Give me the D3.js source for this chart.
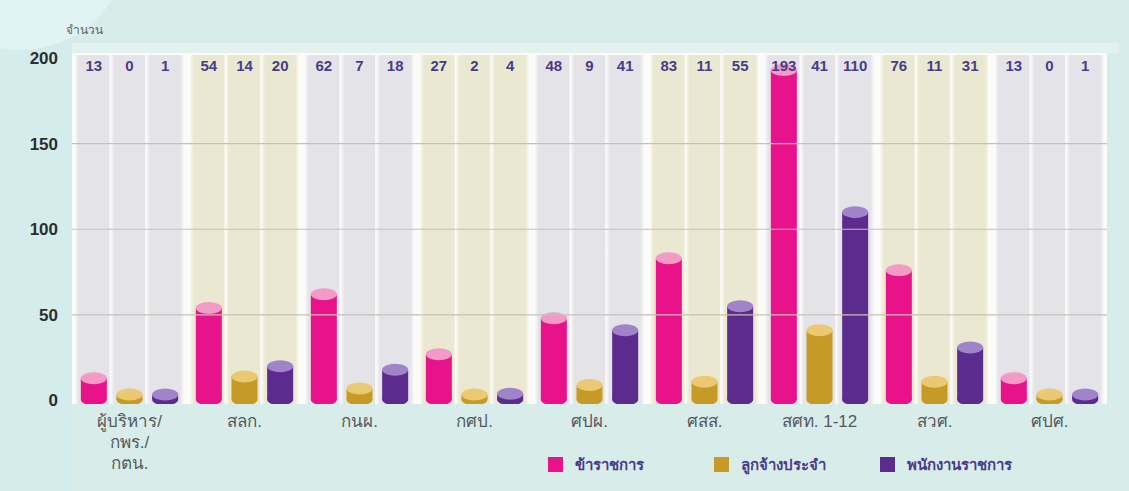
<!DOCTYPE html>
<html>
<head>
<meta charset="utf-8">
<script src="https://cdn.jsdelivr.net/npm/d3@7"></script>
<style>
  body { margin: 0; background: #d8ecea; }
  svg { display: block; }
</style>
</head>
<body>
<div id="chart"></div>
<script>
"use strict";

// data
const categories = ["ผู้บริหาร/|กพร./|กตน.", "สลก.", "กนผ.", "กศป.", "ศปผ.", "ศสส.", "สศท. 1-12", "สวศ.", "ศปศ."];
const seriesNames = ["ข้าราชการ", "ลูกจ้างประจำ", "พนักงานราชการ"];
const civilServants = [13, 54, 62, 27, 48, 83, 193, 76, 13];
const permanentStaff = [0, 14, 7, 2, 9, 11, 41, 11, 0];
const govEmployees = [1, 20, 18, 4, 41, 55, 110, 31, 1];
const yTicks = [0, 50, 100, 150, 200];

const seriesValues = [civilServants, permanentStaff, govEmployees];
const sideColors = ["#e8128a", "#c59a26", "#5b2b8e"];
const topColors = ["#f39ac6", "#ebc872", "#a083c9"];

const W = 1129, H = 491;
const plotL = 72, plotR = 1107, plotT = 53, plotB = 404;

const svg = d3.select("#chart").append("svg")
    .attr("width", W).attr("height", H)
    .style("font-family", "'Liberation Sans', Arial, sans-serif");

const defs = svg.append("defs");
function colGrad(id, c) {
    const g = defs.append("linearGradient").attr("id", id).attr("x1", 0).attr("x2", 1);
    g.append("stop").attr("offset", 0).attr("stop-color", "#ffffff");
    g.append("stop").attr("offset", 0.12).attr("stop-color", c);
    g.append("stop").attr("offset", 0.88).attr("stop-color", c);
    g.append("stop").attr("offset", 1).attr("stop-color", "#ffffff");
}
colGrad("gGray", "#e4e4e8");
colGrad("gBeige", "#ebe8d2");

// background decorations
svg.append("rect").attr("x", 0).attr("y", 0).attr("width", plotL).attr("height", H).attr("fill", "#d4ecec");
svg.append("circle").attr("cx", 20).attr("cy", -60).attr("r", 110).attr("fill", "#e2f3f3");
svg.append("rect").attr("x", plotL).attr("y", plotT - 10).attr("width", plotR - plotL + 12).attr("height", 10)
    .attr("fill", "#e3f2ee");

const x0 = d3.scaleBand().domain(categories).range([plotL, plotR]);
const x1 = d3.scaleBand().domain(seriesNames).range([4, x0.bandwidth() - 4]);
const y = d3.scaleLinear().domain([0, 200]).range([400.5, 58]);

// plot panel
svg.append("rect").attr("x", plotL).attr("y", plotT).attr("width", plotR - plotL).attr("height", plotB - plotT)
    .attr("fill", "#fbfbf8");

const groups = svg.append("g").selectAll("g").data(categories).join("g")
    .attr("transform", d => `translate(${x0(d)},0)`);

groups.selectAll("rect.col").data((d, i) => seriesNames.map(s => ({ s, i }))).join("rect")
    .attr("class", "col")
    .attr("x", d => x1(d.s) - 2)
    .attr("y", plotT + 2)
    .attr("width", x1.bandwidth() + 4)
    .attr("height", plotB - plotT - 2)
    .attr("fill", d => d.i % 2 === 0 ? "url(#gGray)" : "url(#gBeige)");

// gridlines
svg.append("g").selectAll("line").data(yTicks.filter(t => t > 0 && t < 200)).join("line")
    .attr("x1", plotL).attr("x2", plotR)
    .attr("y1", d => y(d)).attr("y2", d => y(d))
    .attr("stroke", "#cbbfb5").attr("stroke-width", 1.2);

// bottom teal strip under baseline
svg.append("rect").attr("x", plotL).attr("y", plotB).attr("width", plotR - plotL).attr("height", 4).attr("fill", "#d8ecea");

// y axis labels
const yAxis = d3.axisLeft(y).tickValues(yTicks).tickSize(0).tickPadding(0);
svg.append("g").attr("transform", "translate(58,0)").call(yAxis)
    .call(g => g.select(".domain").remove())
    .selectAll("text")
    .attr("fill", "#2e2e2e").style("font-size", "17px").style("font-weight", "bold");

svg.append("text").attr("x", 66).attr("y", 34).text("จำนวน")
    .attr("fill", "#5f6468").style("font-size", "12px");

// cylinders
const barW = 26, ry = 6, minH = 5;
const bars = groups.selectAll("g.bar").data((d, i) => seriesValues.map((vals, k) => ({ k, v: vals[i] }))).join("g")
    .attr("class", "bar")
    .attr("transform", d => `translate(${x1(seriesNames[d.k]) + x1.bandwidth() / 2},0)`);

bars.each(function (d) {
    const g = d3.select(this);
    const yb = y(0) - 1;
    const yt = Math.min(y(d.v), yb - minH);
    g.append("ellipse").attr("cx", 0).attr("cy", yb).attr("rx", barW / 2).attr("ry", ry).attr("fill", sideColors[d.k]);
    g.append("rect").attr("x", -barW / 2).attr("y", yt).attr("width", barW).attr("height", yb - yt).attr("fill", sideColors[d.k]);
    g.append("ellipse").attr("cx", 0).attr("cy", yt).attr("rx", barW / 2).attr("ry", ry).attr("fill", topColors[d.k]);
});

// value labels
bars.append("text")
    .attr("x", 0).attr("y", 71)
    .attr("text-anchor", "middle")
    .attr("fill", "#4a3b8a")
    .style("font-size", "15px").style("font-weight", "bold")
    .text(d => d.v);

// category labels
groups.append("text")
    .attr("x", x0.bandwidth() / 2)
    .attr("y", 427)
    .attr("text-anchor", "middle")
    .attr("fill", "#555a5e")
    .style("font-size", "17px")
    .selectAll("tspan").data(d => d.split("|")).join("tspan")
    .attr("x", x0.bandwidth() / 2)
    .attr("dy", (d, i) => i === 0 ? 0 : 21)
    .text(d => d);

// legend
const legendX = [548, 714, 880];
const legend = svg.append("g").selectAll("g").data(seriesNames).join("g")
    .attr("transform", (d, i) => `translate(${legendX[i]},457)`);
legend.append("rect").attr("width", 15).attr("height", 15).attr("fill", (d, i) => sideColors[i]);
legend.append("text").attr("x", 27).attr("y", 13).text(d => d)
    .attr("fill", "#4a3b8a").style("font-size", "15px").style("font-weight", "bold");
</script>
</body>
</html>
